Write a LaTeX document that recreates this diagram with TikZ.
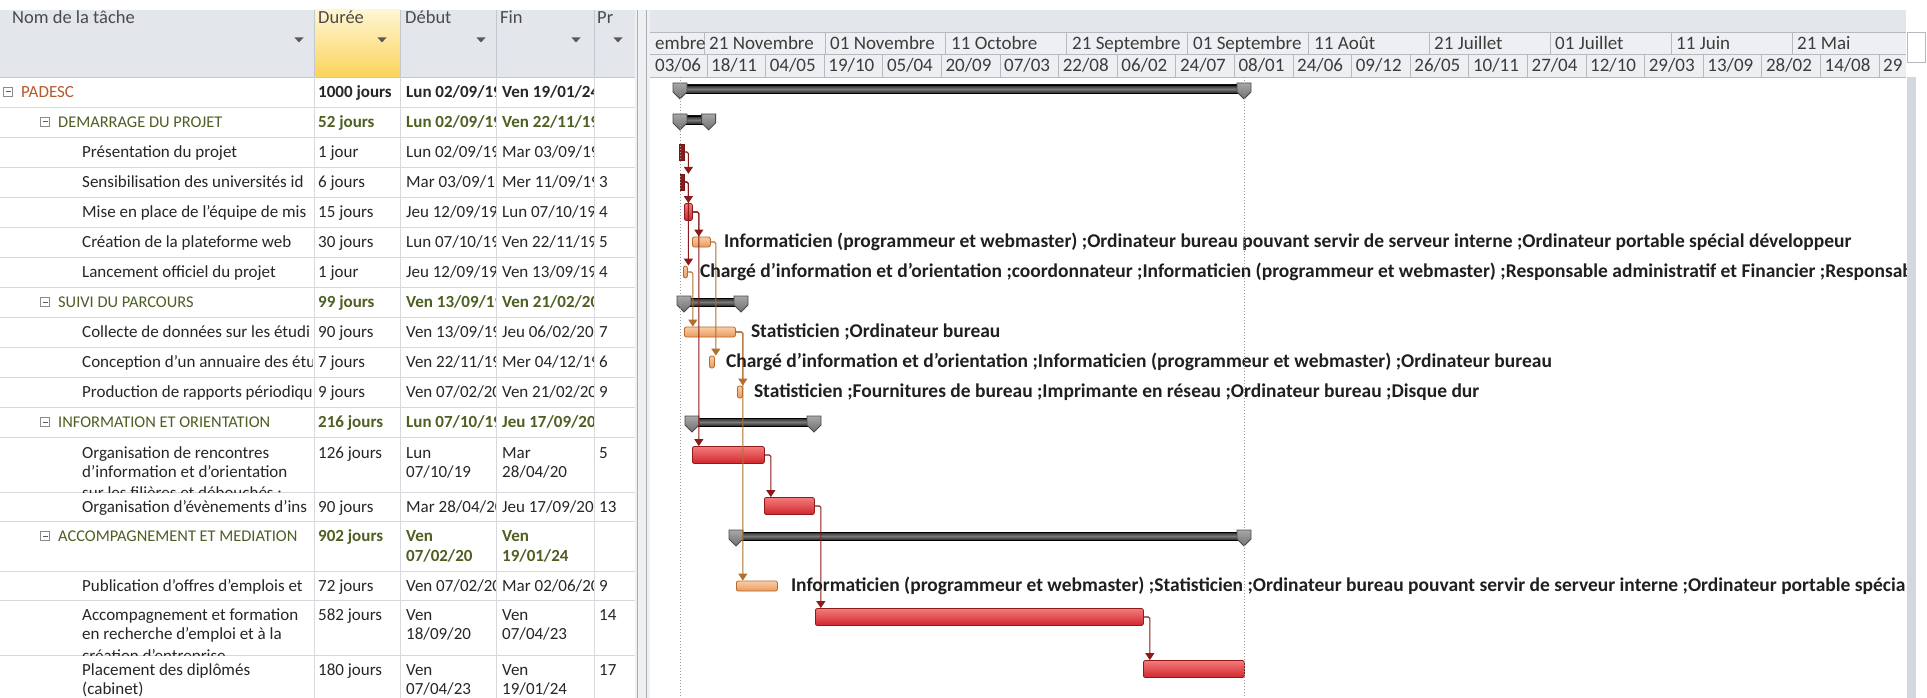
\documentclass[tikz,border=0pt]{standalone}
\usepackage{fontspec}
\setmainfont{Carlito}
\usetikzlibrary{arrows.meta}
\definecolor{txt}{HTML}{262626}
\definecolor{olive}{HTML}{4E5F22}
\definecolor{padc}{HTML}{B35A2E}
\definecolor{grid}{HTML}{D5D8DC}
\definecolor{hdrbg}{HTML}{E3E6EA}
\definecolor{hdrline}{HTML}{C3C8CE}
\definecolor{durtop}{HTML}{FFF6D2}
\definecolor{durbot}{HTML}{FCD35A}
\definecolor{hdrtxt}{HTML}{4A4A4A}
\definecolor{tierbg}{HTML}{EDEFF2}
\definecolor{tierline}{HTML}{B5BAC1}
\definecolor{tiertxt}{HTML}{3C3C3C}
\definecolor{splitbg}{HTML}{EEF0F2}
\definecolor{splitline}{HTML}{A9AFB7}
\definecolor{redtop}{HTML}{F47C7C}
\definecolor{redbot}{HTML}{D0262C}
\definecolor{redline}{HTML}{8E1B1B}
\definecolor{orgtop}{HTML}{F9CDA6}
\definecolor{orgbot}{HTML}{EA9A5E}
\definecolor{orgline}{HTML}{B9692C}
\definecolor{critlnk}{HTML}{8B1A1A}
\definecolor{nclnk}{HTML}{B07030}
\definecolor{sumdark}{HTML}{262626}
\definecolor{summid}{HTML}{7A7A7A}
\definecolor{captop}{HTML}{A8A8A8}
\definecolor{capbot}{HTML}{6E6E6E}
\definecolor{capline}{HTML}{4A4A4A}
\definecolor{dotc}{HTML}{9A9A9A}
\definecolor{ddc}{HTML}{5A5A5A}
\definecolor{scroll}{HTML}{D3D8DE}
\newcommand\ganttcap[2]{\draw[capstyle] (#1-7,#2-6) -- (#1+7,#2-6) -- (#1+7,#2+3) -- (#1,#2+10) -- (#1-7,#2+3) -- cycle;}
\newcommand\ganttsum[4]{\node[sumbody, minimum width={#3pt-#2pt}] (#1) at (#2,#4) {};\ganttcap{#2}{#4}\ganttcap{#3}{#4}}
\newcommand\ddarrow[1]{\fill[ddc] (#1-4.5,37.5) -- (#1+4.5,37.5) -- (#1,42.5) -- cycle;}
\newcommand\colbox[3]{\node[colboxst] (#1) at (#2,#3) {};\draw[ddc, line width=1] ([xshift=-2.5pt]#1.center) -- ([xshift=2.5pt]#1.center);}
\begin{document}
\begin{tikzpicture}[x=1pt,y=-1pt,
  hdr/.style={font=\fontsize{18.5}{22}\selectfont, text=hdrtxt, anchor=base west, inner sep=0},
  tname/.style={font=\fontsize{17}{20}\selectfont, text=txt, anchor=base west, inner sep=0},
  tbold/.style={tname, font=\bfseries\fontsize{17}{20}\selectfont},
  subname/.style={tname, font=\fontsize{16.4}{20}\selectfont, text=olive},
  subval/.style={tbold, text=olive},
  padname/.style={tname, text=padc},
  tier/.style={font=\fontsize{19}{22}\selectfont, text=tiertxt, anchor=base west, inner sep=0},
  lbl/.style={font=\bfseries\fontsize{19.5}{22}\selectfont, text=black!88, anchor=west, inner sep=0},
  gridl/.style={draw=grid, line width=0.8},
  hdrl/.style={draw=hdrline, line width=0.8},
  tierl/.style={draw=tierline, line width=0.8},
  colboxst/.style={draw=ddc!70, fill=white, minimum size=9pt, inner sep=0, line width=0.7},
  critbar/.style={draw=redline, line width=0.8, rounded corners=2pt, top color=redtop, bottom color=redbot, minimum height=17pt, inner sep=0, anchor=west},
  smallcrit/.style={draw=redline!80!black, fill=redline, minimum height=16pt, inner sep=0, anchor=west},
  ncbar/.style={draw=orgline, line width=0.8, rounded corners=2pt, top color=orgtop, bottom color=orgbot, minimum height=10pt, inner sep=0, anchor=west},
  sumbody/.style={draw=black, line width=0.8, top color=sumdark, bottom color=sumdark, middle color=summid, minimum height=8pt, inner sep=0, anchor=west},
  capstyle/.style={draw=capline, line width=0.8, top color=captop, bottom color=capbot},
  critlink/.style={draw=critlnk, line width=1.1, rounded corners=1.5pt, -{Triangle[width=9pt,length=7pt]}},
  nclink/.style={draw=nclnk, line width=1.1, rounded corners=1.5pt, -{Triangle[width=9pt,length=7pt]}},
  dotline/.style={draw=dotc, line width=0.9, dash pattern=on 1pt off 2pt}]
\useasboundingbox (0,0) rectangle (1927,698);
\fill[white] (0,0) rectangle (1927,698);
% ---------- table header
\fill[hdrbg] (0,10) rectangle (637,77);
\shade[top color=durtop, bottom color=durbot] (314,10) rectangle (400,77);
\foreach \x in {314,400,496,594} \draw[hdrl] (\x,10) -- (\x,77);
\draw[hdrl] (0,77) -- (637,77);
\node[hdr] (h1) at (12,23.5) {Nom de la tâche};
\node[hdr] (h2) at (318,23.5) {Durée};
\node[hdr] (h3) at (405,23.5) {Début};
\node[hdr] (h4) at (500,23.5) {Fin};
\node[hdr] (h5) at (597,23.5) {Pr};
\ddarrow{299}\ddarrow{382}\ddarrow{481}\ddarrow{576}\ddarrow{618}
% ---------- table grid
\foreach \y in {107,137,...,437} \draw[gridl] (0,\y) -- (637,\y);
\foreach \y in {492.5,521,571,600,655} \draw[gridl] (0,\y) -- (637,\y);
\foreach \x in {314,400,496,594} \draw[gridl] (\x,77) -- (\x,698);
% ---------- collapse boxes
\colbox{c0}{8}{92}
\colbox{c1}{45}{122}
\colbox{c7}{45}{302}
\colbox{c11}{45}{422}
\colbox{c14}{45}{536}
% ---------- names
\begin{scope}
\clip (0,77) rectangle (312.5,698);
\node[padname] (n0) at (21,97.5) {PADESC};
\node[subname] (n1) at (58,127.5) {DEMARRAGE DU PROJET};
\node[tname] (n2) at (82,157.5) {Présentation du projet};
\node[tname] (n3) at (82,187.5) {Sensibilisation des universités id};
\node[tname] (n4) at (82,217.5) {Mise en place de l’équipe de mis};
\node[tname] (n5) at (82,247.5) {Création de la plateforme web};
\node[tname] (n6) at (82,277.5) {Lancement officiel du projet};
\node[subname] (n7) at (58,307.5) {SUIVI DU PARCOURS};
\node[tname] (n8) at (82,337.5) {Collecte de données sur les étudi};
\node[tname] (n9) at (82,367.5) {Conception d’un annuaire des étu};
\node[tname] (n10) at (82,397.5) {Production de rapports périodiqu};
\node[subname] (n11) at (58,427.5) {INFORMATION ET ORIENTATION};
\node[tname] (n12a) at (82,458) {Organisation de rencontres};
\node[tname] (n12b) at (82,477) {d’information et d’orientation};
\node[tname] (n13) at (82,512) {Organisation d’évènements d’ins};
\node[subname] (n14) at (58,541) {ACCOMPAGNEMENT ET MEDIATION};
\node[tname] (n15) at (82,591) {Publication d’offres d’emplois et};
\node[tname] (n16a) at (82,620) {Accompagnement et formation};
\node[tname] (n16b) at (82,639) {en recherche d’emploi et à la};
\node[tname] (n17a) at (82,675) {Placement des diplômés};
\node[tname] (n17b) at (82,694) {(cabinet)};
\end{scope}
\begin{scope}
\clip (0,437) rectangle (312.5,492.5);
\node[tname] (n12c) at (82,498.5) {sur les filières et débouchés :};
\end{scope}
\begin{scope}
\clip (0,600) rectangle (312.5,655);
\node[tname] (n16c) at (82,661) {création d’entreprise};
\end{scope}
% ---------- durations
\node[tbold] (d0) at (318,97.5) {1000 jours};
\node[subval] (d1) at (318,127.5) {52 jours};
\node[tname] (d2) at (318,157.5) {1 jour};
\node[tname] (d3) at (318,187.5) {6 jours};
\node[tname] (d4) at (318,217.5) {15 jours};
\node[tname] (d5) at (318,247.5) {30 jours};
\node[tname] (d6) at (318,277.5) {1 jour};
\node[subval] (d7) at (318,307.5) {99 jours};
\node[tname] (d8) at (318,337.5) {90 jours};
\node[tname] (d9) at (318,367.5) {7 jours};
\node[tname] (d10) at (318,397.5) {9 jours};
\node[subval] (d11) at (318,427.5) {216 jours};
\node[tname] (d12) at (318,458) {126 jours};
\node[tname] (d13) at (318,512) {90 jours};
\node[subval] (d14) at (318,541) {902 jours};
\node[tname] (d15) at (318,591) {72 jours};
\node[tname] (d16) at (318,620) {582 jours};
\node[tname] (d17) at (318,675) {180 jours};
% ---------- start dates
\begin{scope}
\clip (401,77) rectangle (495.5,698);
\node[tbold] (s0) at (406,97.5) {Lun 02/09/19};
\node[subval] (s1) at (406,127.5) {Lun 02/09/19};
\node[tname] (s2) at (406,157.5) {Lun 02/09/19};
\node[tname] (s3) at (406,187.5) {Mar 03/09/19};
\node[tname] (s4) at (406,217.5) {Jeu 12/09/19};
\node[tname] (s5) at (406,247.5) {Lun 07/10/19};
\node[tname] (s6) at (406,277.5) {Jeu 12/09/19};
\node[subval] (s7) at (406,307.5) {Ven 13/09/19};
\node[tname] (s8) at (406,337.5) {Ven 13/09/19};
\node[tname] (s9) at (406,367.5) {Ven 22/11/19};
\node[tname] (s10) at (406,397.5) {Ven 07/02/20};
\node[subval] (s11) at (406,427.5) {Lun 07/10/19};
\node[tname] (s12a) at (406,458) {Lun};
\node[tname] (s12b) at (406,477) {07/10/19};
\node[tname] (s13) at (406,512) {Mar 28/04/20};
\node[subval] (s14a) at (406,541) {Ven};
\node[subval] (s14b) at (406,561) {07/02/20};
\node[tname] (s15) at (406,591) {Ven 07/02/20};
\node[tname] (s16a) at (406,620) {Ven};
\node[tname] (s16b) at (406,639) {18/09/20};
\node[tname] (s17a) at (406,675) {Ven};
\node[tname] (s17b) at (406,694) {07/04/23};
\end{scope}
% ---------- finish dates
\begin{scope}
\clip (497,77) rectangle (593.5,698);
\node[tbold] (f0) at (502,97.5) {Ven 19/01/24};
\node[subval] (f1) at (502,127.5) {Ven 22/11/19};
\node[tname] (f2) at (502,157.5) {Mar 03/09/19};
\node[tname] (f3) at (502,187.5) {Mer 11/09/19};
\node[tname] (f4) at (502,217.5) {Lun 07/10/19};
\node[tname] (f5) at (502,247.5) {Ven 22/11/19};
\node[tname] (f6) at (502,277.5) {Ven 13/09/19};
\node[subval] (f7) at (502,307.5) {Ven 21/02/20};
\node[tname] (f8) at (502,337.5) {Jeu 06/02/20};
\node[tname] (f9) at (502,367.5) {Mer 04/12/19};
\node[tname] (f10) at (502,397.5) {Ven 21/02/20};
\node[subval] (f11) at (502,427.5) {Jeu 17/09/20};
\node[tname] (f12a) at (502,458) {Mar};
\node[tname] (f12b) at (502,477) {28/04/20};
\node[tname] (f13) at (502,512) {Jeu 17/09/20};
\node[subval] (f14a) at (502,541) {Ven};
\node[subval] (f14b) at (502,561) {19/01/24};
\node[tname] (f15) at (502,591) {Mar 02/06/20};
\node[tname] (f16a) at (502,620) {Ven};
\node[tname] (f16b) at (502,639) {07/04/23};
\node[tname] (f17a) at (502,675) {Ven};
\node[tname] (f17b) at (502,694) {19/01/24};
\end{scope}
% ---------- predecessors
\node[tname] (p3) at (599,187.5) {3};
\node[tname] (p4) at (599,217.5) {4};
\node[tname] (p5) at (599,247.5) {5};
\node[tname] (p6) at (599,277.5) {4};
\node[tname] (p8) at (599,337.5) {7};
\node[tname] (p9) at (599,367.5) {6};
\node[tname] (p10) at (599,397.5) {9};
\node[tname] (p12) at (599,458) {5};
\node[tname] (p13) at (599,512) {13};
\node[tname] (p15) at (599,591) {9};
\node[tname] (p16) at (599,620) {14};
\node[tname] (p17) at (599,675) {17};
% ---------- splitter
\fill[splitbg] (635,10) rectangle (650,698);
\draw[draw=splitline, line width=0.9] (637.5,10) -- (637.5,698);
\draw[draw=splitline, line width=0.9] (646.5,10) -- (646.5,698);
% ---------- timescale
\fill[hdrbg] (650,10) rectangle (1906,32);
\fill[tierbg] (650,32) rectangle (1906,77);
\draw[tierl] (650,32) -- (1906,32);
\draw[tierl] (650,54) -- (1906,54);
\draw[tierl] (650,77) -- (1906,77);
\foreach \k in {0,...,9} \draw[tierl] ({704+120.9*\k},32) -- ({704+120.9*\k},54);
\foreach \k in {0,...,20} \draw[tierl] ({707+58.6*\k},54) -- ({707+58.6*\k},77);
\node[tier] (u0) at (655,49.5) {embre};
\node[tier] (u1) at (709,49.5) {21 Novembre};
\node[tier] (u2) at (830,49.5) {01 Novembre};
\node[tier] (u3) at (951,49.5) {11 Octobre};
\node[tier] (u4) at (1072,49.5) {21 Septembre};
\node[tier] (u5) at (1193,49.5) {01 Septembre};
\node[tier] (u6) at (1314,49.5) {11 Août};
\node[tier] (u7) at (1434,49.5) {21 Juillet};
\node[tier] (u8) at (1555,49.5) {01 Juillet};
\node[tier] (u9) at (1676,49.5) {11 Juin};
\node[tier] (u10) at (1797,49.5) {21 Mai};
\node[tier] (v0) at (655,71.5) {03/06};
\node[tier] (v1) at (711,71.5) {18/11};
\node[tier] (v2) at (769.6,71.5) {04/05};
\node[tier] (v3) at (828.2,71.5) {19/10};
\node[tier] (v4) at (886.8,71.5) {05/04};
\node[tier] (v5) at (945.4,71.5) {20/09};
\node[tier] (v6) at (1004,71.5) {07/03};
\node[tier] (v7) at (1062.6,71.5) {22/08};
\node[tier] (v8) at (1121.2,71.5) {06/02};
\node[tier] (v9) at (1179.8,71.5) {24/07};
\node[tier] (v10) at (1238.4,71.5) {08/01};
\node[tier] (v11) at (1297,71.5) {24/06};
\node[tier] (v12) at (1355.6,71.5) {09/12};
\node[tier] (v13) at (1414.2,71.5) {26/05};
\node[tier] (v14) at (1472.8,71.5) {10/11};
\node[tier] (v15) at (1531.4,71.5) {27/04};
\node[tier] (v16) at (1590,71.5) {12/10};
\node[tier] (v17) at (1648.6,71.5) {29/03};
\node[tier] (v18) at (1707.2,71.5) {13/09};
\node[tier] (v19) at (1765.8,71.5) {28/02};
\node[tier] (v20) at (1824.4,71.5) {14/08};
\node[tier] (v21) at (1883,71.5) {29};
% ---------- scrollbar
\draw[draw=tierline, fill=white, line width=0.8] (1907,32) rectangle (1925,62);
\fill[scroll] (1907,77) rectangle (1916,698);
% ---------- chart
\begin{scope}
\clip (650,77.5) rectangle (1906,698);
\ganttsum{b1}{680}{1244}{89}
\ganttsum{b2}{680}{708.6}{120}
\ganttsum{b8}{684}{741}{302}
\ganttsum{b12}{692}{814}{422}
\ganttsum{b15}{736}{1244}{536}
\node[smallcrit, minimum width=5pt] (t3) at (679,152) {};
\node[smallcrit, minimum width=4pt] (t4) at (680,182) {};
\node[critbar, minimum width=8pt] (t5) at (684,212) {};
\node[ncbar, minimum width=18pt] (t6) at (692,242) {};
\node[ncbar, minimum width=4pt, minimum height=12pt] (t7) at (683,272) {};
\node[ncbar, minimum width=51pt] (t9) at (684,332) {};
\node[ncbar, minimum width=5pt, minimum height=12pt] (t10) at (709,362) {};
\node[ncbar, minimum width=5pt, minimum height=12pt] (t11) at (737,392) {};
\node[critbar, minimum width=72pt] (t13) at (692,455) {};
\node[critbar, minimum width=50pt] (t14) at (764,506) {};
\node[ncbar, minimum width=41pt] (t16) at (736,586) {};
\node[critbar, minimum width=328pt] (t17) at (815,617) {};
\node[critbar, minimum width=101pt] (t18) at (1143,669) {};
% links
\draw[critlink] (t3.east) -- ++(4,0) coordinate (k3) -- (k3 |- t4.north);
\draw[critlink] (t4.east) -- ++(4,0) coordinate (k4) -- (k4 |- t5.north);
\draw[critlink] (t4.east) -- ++(4,0) coordinate (k4b) -- (k4b |- t7.north);
\draw[critlink] (t5.east) -- ++(6,0) coordinate (k5) -- (k5 |- t6.north);
\draw[critlink] (t5.east) -- ++(6,0) coordinate (k5b) -- (k5b |- t13.north);
\draw[nclink] (t7.east) -- ++(5,0) coordinate (k7) -- (k7 |- t9.north);
\draw[nclink] (t6.east) -- ++(5,0) coordinate (k6) -- (k6 |- t10.north);
\draw[nclink] (t9.east) -- ++(7,0) coordinate (k9) -- (k9 |- t11.north);
\draw[nclink] (t9.east) -- ++(7,0) coordinate (k9b) -- (k9b |- t16.north);
\draw[critlink] (t13.east) -- ++(6,0) coordinate (k13) -- (k13 |- t14.north);
\draw[critlink] (t14.east) -- ++(6,0) coordinate (k14) -- (k14 |- t17.north);
\draw[critlink] (t17.east) -- ++(6,0) coordinate (k17) -- (k17 |- t18.north);
% labels
\node[lbl] (l6) at ([xshift=13pt]t6.east) {Informaticien (programmeur et webmaster) ;Ordinateur bureau pouvant servir de serveur interne ;Ordinateur portable spécial développeur};
\node[lbl] (l7) at ([xshift=12pt]t7.east) {Chargé d’information et d’orientation ;coordonnateur ;Informaticien (programmeur et webmaster) ;Responsable administratif et Financier ;Responsab};
\node[lbl] (l9) at ([xshift=15pt]t9.east) {Statisticien ;Ordinateur bureau};
\node[lbl] (l10) at ([xshift=11pt]t10.east) {Chargé d’information et d’orientation ;Informaticien (programmeur et webmaster) ;Ordinateur bureau};
\node[lbl] (l11) at ([xshift=11pt]t11.east) {Statisticien ;Fournitures de bureau ;Imprimante en réseau ;Ordinateur bureau ;Disque dur};
\node[lbl] (l16) at ([xshift=13pt]t16.east) {Informaticien (programmeur et webmaster) ;Statisticien ;Ordinateur bureau pouvant servir de serveur interne ;Ordinateur portable spécia};
\draw[dotline] (680,77) -- (680,698);
\draw[dotline] (1244,77) -- (1244,698);
\end{scope}
\end{tikzpicture}
\end{document}
